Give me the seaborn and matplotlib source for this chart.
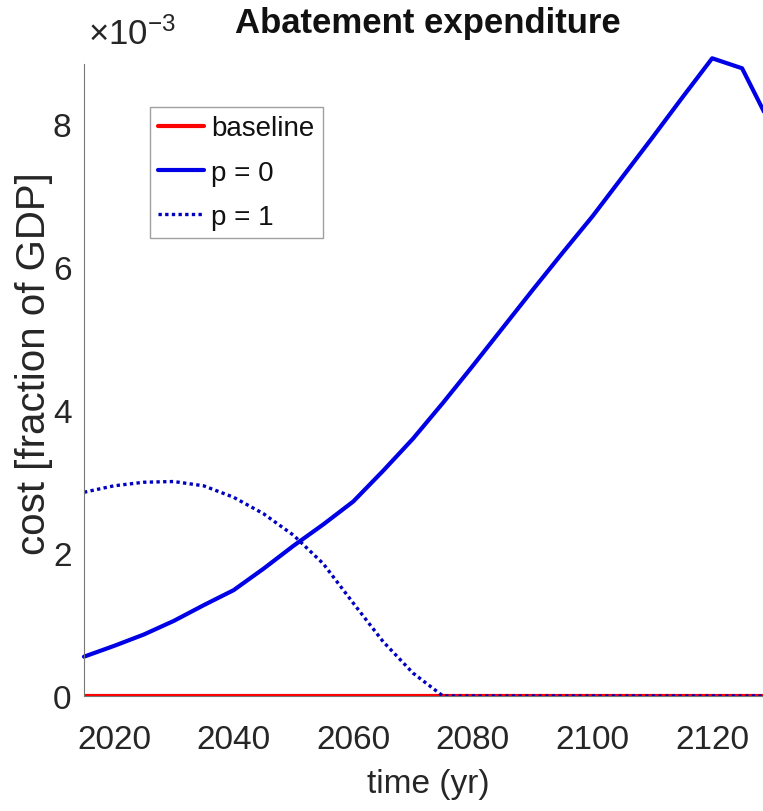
import numpy as np
import pandas as pd
import matplotlib
matplotlib.use("Agg")
import matplotlib.pyplot as plt
import seaborn as sns
from matplotlib.ticker import FuncFormatter

# datos (coste en unidades de 1e-3 del PIB)
years = [2015, 2020, 2025, 2030, 2035, 2040, 2045, 2050, 2055, 2060, 2065, 2070,
         2075, 2080, 2085, 2090, 2095, 2100, 2105, 2110, 2115, 2120, 2125, 2130]
baseline = [0.0] * len(years)
p0 = [0.55, 0.70, 0.86, 1.05, 1.27, 1.48, 1.78, 2.10, 2.40, 2.72, 3.15, 3.60,
      4.10, 4.62, 5.15, 5.68, 6.20, 6.71, 7.26, 7.81, 8.37, 8.92, 8.78, 7.95]
p1 = [2.85, 2.94, 2.99, 3.00, 2.94, 2.78, 2.55, 2.25, 1.85, 1.30, 0.76, 0.32,
      0.00, 0.00, 0.00, 0.00, 0.00, 0.00, 0.00, 0.00, 0.00, 0.00, 0.00, 0.00]
scale = 1e-3

df = pd.DataFrame({"year": years,
                   "baseline": np.array(baseline) * scale,
                   "p0": np.array(p0) * scale,
                   "p1": np.array(p1) * scale})

sns.set_theme(style="white")
plt.rcParams["font.family"] = ["Liberation Sans", "DejaVu Sans"]
plt.rcParams["mathtext.fontset"] = "custom"
plt.rcParams["mathtext.rm"] = "Liberation Sans"
plt.rcParams["mathtext.it"] = "Liberation Sans:italic"

fig = plt.figure(figsize=(7.63, 8.12), dpi=100)
# el eje llega hasta 2130, un poco mas alla del borde de la figura (recortado)
ax = fig.add_axes([84 / 763, 115 / 812, 688 / 763, 632 / 812])

sns.lineplot(data=df, x="year", y="baseline", ax=ax, color="#ff0000", lw=3, label="baseline")
sns.lineplot(data=df, x="year", y="p0", ax=ax, color="#0000e6", lw=3, label="p = 0")
sns.lineplot(data=df, x="year", y="p1", ax=ax, color="#0000c0", lw=2.4,
             dashes=False, label="p = 1")
ax.lines[2].set_linestyle((0, (1, 1)))
ax.lines[1].set_clip_on(False)

ax.set_xlim(2015, 2130)
ax.set_ylim(0, 8.84e-3)
ax.set_xticks(range(2020, 2121, 20))
ax.set_yticks(np.arange(0, 9, 2) * scale)
ax.yaxis.set_major_formatter(FuncFormatter(lambda v, _: f"{v / scale:.0f}"))
ax.tick_params(direction="in", width=0.8, color="#555555",
               labelsize=24, labelcolor="#262626")
ax.tick_params(axis="x", length=6, pad=20)
ax.tick_params(axis="y", length=5, pad=9)

for s in ["top", "right"]:
    ax.spines[s].set_visible(False)
for s in ["left", "bottom"]:
    ax.spines[s].set_color("#777777")
    ax.spines[s].set_linewidth(0.8)

ax.set_xlabel("time (yr)", fontsize=24, color="#262626")
ax.xaxis.set_label_coords(0.5, -0.114)
ax.xaxis.label.set_va("top")
ax.set_ylabel("cost [fraction of GDP]", fontsize=29, color="#262626")
ax.yaxis.set_label_coords(-0.045, 0.528)
ax.set_title("Abatement expenditure", fontsize=25, fontweight="bold", pad=23,
             color="#111111")
ax.text(0.006, 1.032, r"$\mathregular{\times10^{-3}}$", transform=ax.transAxes,
        fontsize=25, color="#262626", ha="left", va="baseline")

leg = ax.legend(loc="upper left", bbox_to_anchor=(66 / 688, 1 - 43 / 632),
                fontsize=20, frameon=True, fancybox=False, handlelength=1.65,
                handletextpad=0.25, borderpad=0.3, labelspacing=0.66, borderaxespad=0)
leg.get_frame().set_edgecolor("#888888")
leg.get_frame().set_linewidth(1.0)
for t in leg.get_texts():
    t.set_color("#111111")

fig.savefig("out.png", dpi=100)
